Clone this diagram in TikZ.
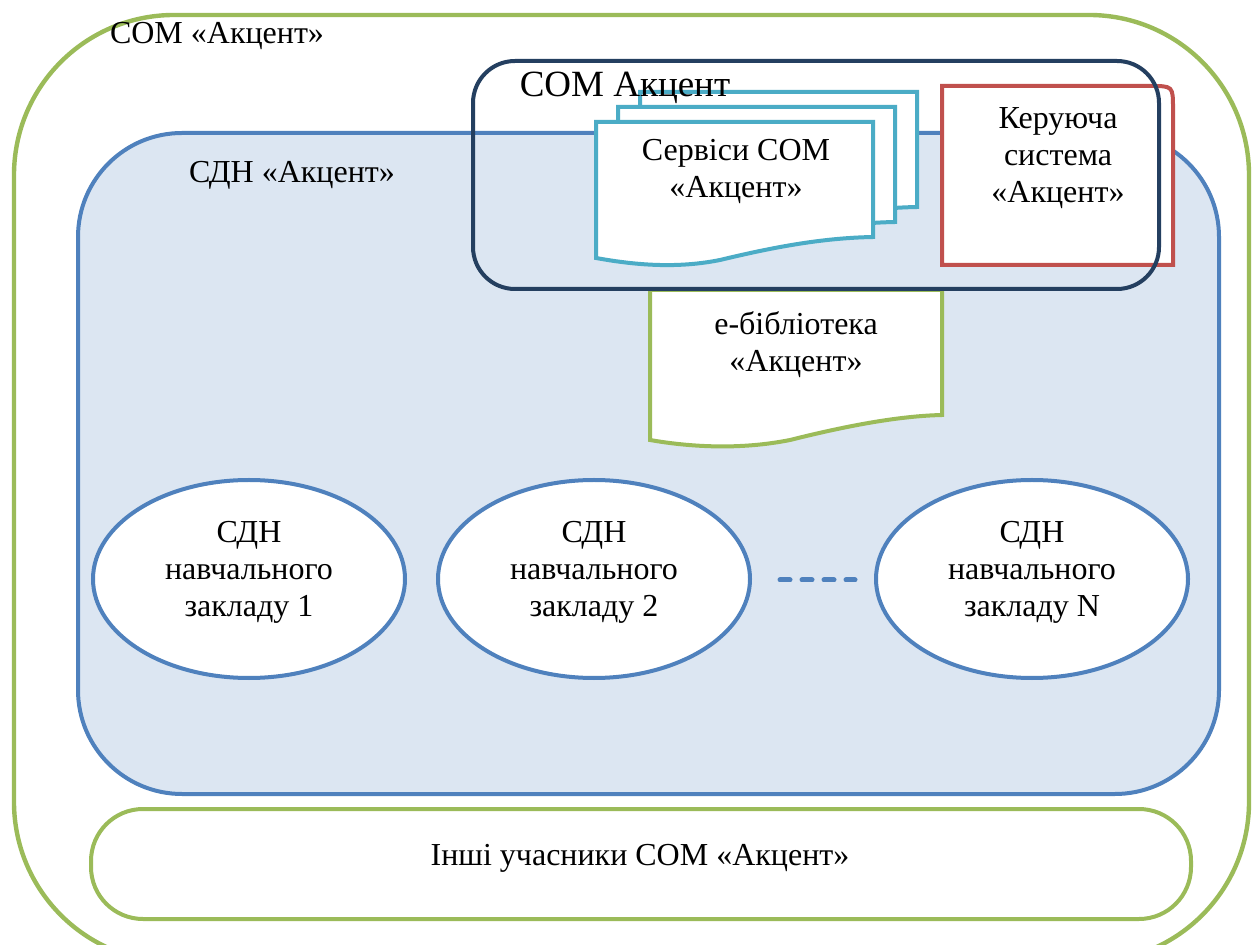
\documentclass[tikz,border=0pt]{standalone}
\usepackage{fontspec}
\setmainfont{Liberation Serif}
\usetikzlibrary{shapes,arrows,calc}
\definecolor{olgreen}{HTML}{9BBB59}
\definecolor{olblue}{HTML}{4F81BD}
\definecolor{olpale}{HTML}{DCE6F2}
\definecolor{olnavy}{HTML}{243F60}
\definecolor{olcyan}{HTML}{4BACC6}
\definecolor{olred}{HTML}{C0504D}

\begin{document}
\begin{tikzpicture}[x=0.5pt,y=-0.5pt,line width=2pt,
	txt/.style={align=center, font=\fontsize{16}{18.5}\selectfont, inner sep=0pt},
	sdnell/.style={ellipse, draw=olblue, fill=white, minimum width=156pt, minimum height=99pt}]
	\useasboundingbox (0,0) rectangle (1257,945);
	% frames
	\draw[olgreen, line width=2.2pt, fill=white, rounded corners=80pt] (14,15) rectangle (1249,962);
	\draw[olblue, fill=olpale, rounded corners=52pt] (78,133) rectangle (1219,794);
	\draw[olgreen, fill=white, rounded corners=26pt] (91,809) rectangle (1191,919);
	\node[txt, anchor=base] (som) at (217,44) {СОМ «Акцент»};
	\node[txt, anchor=base] (sdn) at (292,183) {СДН «Акцент»};
	\node[txt, anchor=base] (inshi) at (640,865) {Інші учасники СОМ «Акцент»};
	% schools
	\foreach \x/\n [count=\i] in {249/1, 594/2, 1032/N}{
		\node[sdnell] (sdn\i) at (\x,579) {};
		\node[txt] (sdnt\i) at (\x,572) {СДН\\навчального\\закладу \n};
	}
	\draw[olblue, line width=2.5pt, line cap=round, dash pattern=on 5pt off 6pt] (780,580) -- (855,580);
	% e-library
	\draw[olgreen, fill=white] (650,290) -- (942,290) -- (942,415) .. controls (900,416) and (850,425) .. (790,440) .. controls (740,450) and (690,447) .. (650,440) -- cycle;
	\node[txt] (elib) at (796,345) {е-бібліотека\\«Акцент»};
	% services
	\foreach \dx/\dy in {44/-30, 22/-15, 0/0}
		\draw[olcyan, fill=white, shift={(\dx,\dy)}] (596,122) -- (873,122) -- (873,237) .. controls (820,238) and (770,248) .. (720,260) .. controls (680,268) and (640,266) .. (596,258) -- cycle;
	\node[txt] (serv) at (736,172) {Сервіси СОМ\\«Акцент»};
	\draw[olred, fill=white] (942,265) -- (942,86) -- (1150,86) .. controls (1173,86) .. (1173,109) -- (1173,265) -- cycle;
	\node[txt] (keru) at (1058,158) {Керуюча\\система\\«Акцент»};
	\draw[olnavy, rounded corners=21pt] (473,61) rectangle (1159,289);
	\node[txt, anchor=base, font=\fontsize{18.5}{22}\selectfont] (somac) at (625,97) {СОМ Акцент};
\end{tikzpicture}
\end{document}
